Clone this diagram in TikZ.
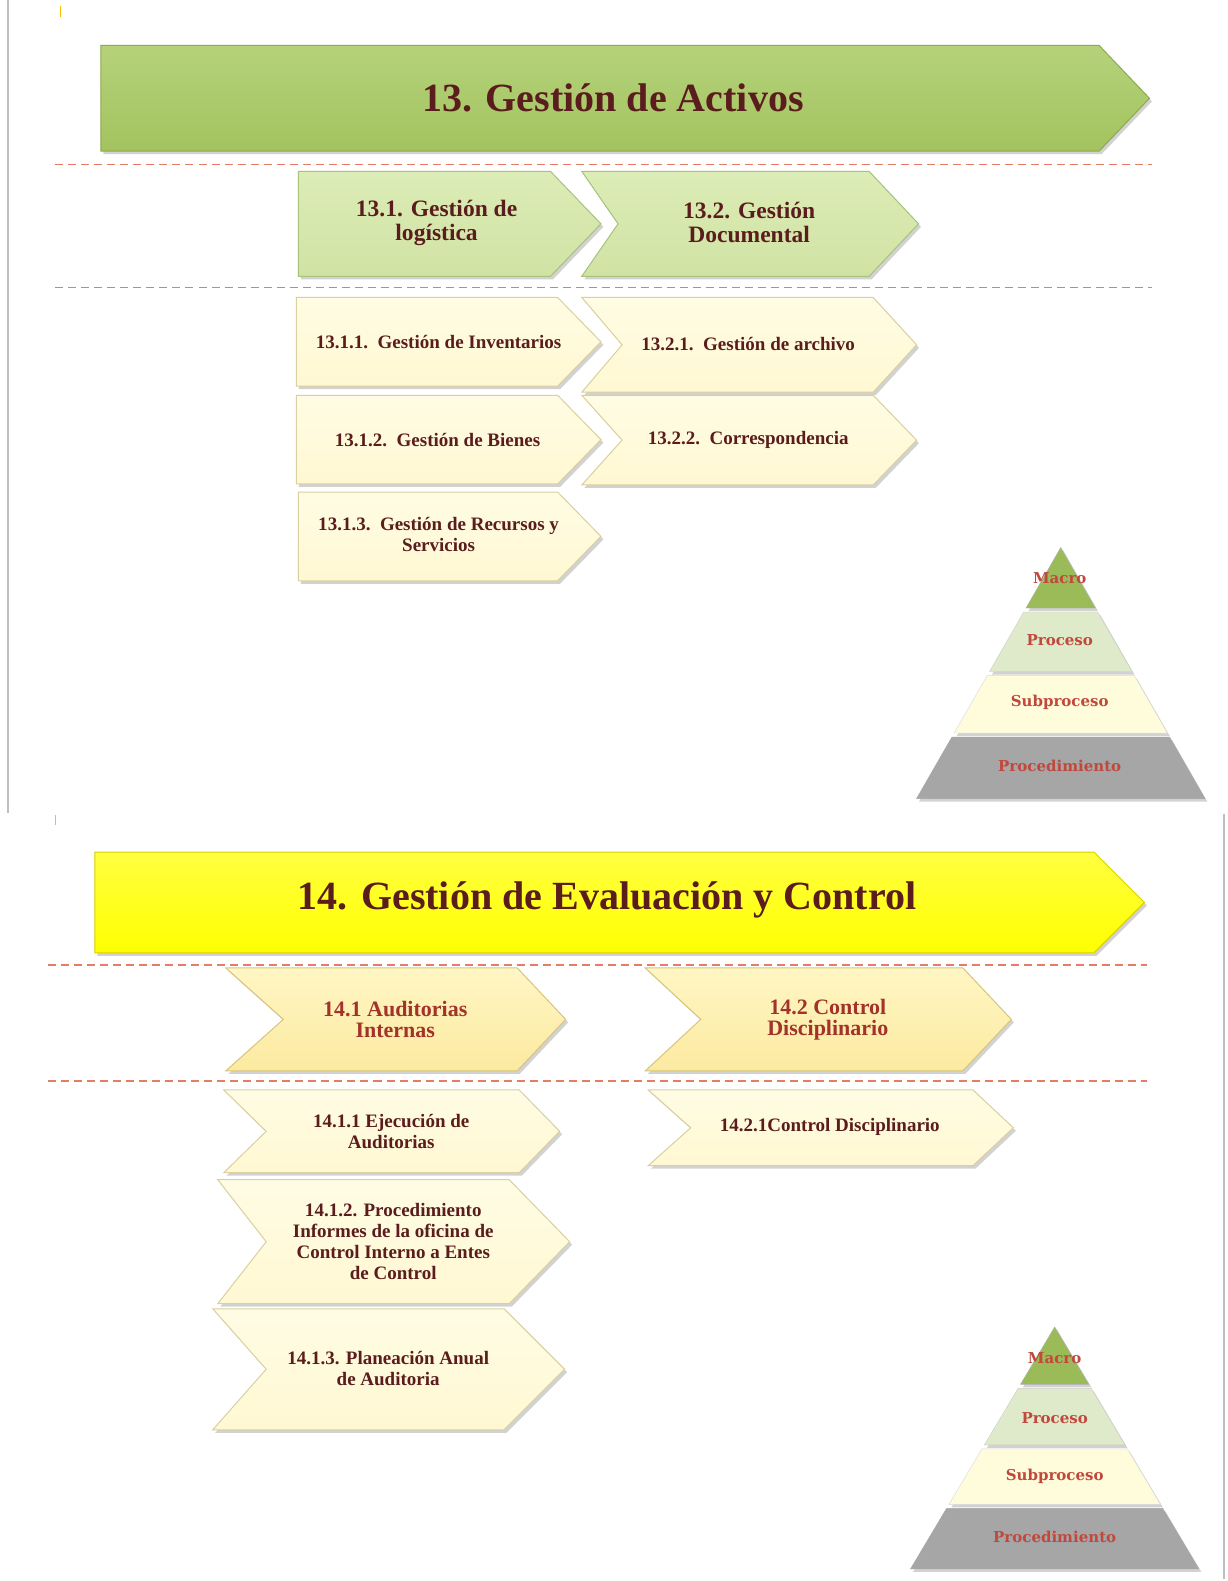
\documentclass[tikz,border=0pt]{standalone}
\usepackage{fontspec}
\setmainfont{Liberation Serif}
\newfontfamily\pyrfont{DejaVu Serif}
\usetikzlibrary{shadows}
\definecolor{grnA}{HTML}{A3C35F}
\definecolor{grnTop}{HTML}{B5D27A}
\definecolor{grnEdge}{HTML}{8CAA4E}
\definecolor{lgrn}{HTML}{D0E3A4}
\definecolor{lgrnTop}{HTML}{DCECB6}
\definecolor{lgrnEdge}{HTML}{A9C17A}
\definecolor{crm}{HTML}{FFF8D2}
\definecolor{crmTop}{HTML}{FFFCE4}
\definecolor{crmEdge}{HTML}{D9CFA0}
\definecolor{ylw}{HTML}{FFFF00}
\definecolor{ylwTop}{HTML}{FFFF40}
\definecolor{ylwEdge}{HTML}{D8D000}
\definecolor{pyl}{HTML}{FCEAA0}
\definecolor{pylTop}{HTML}{FFF6C4}
\definecolor{pylEdge}{HTML}{D8C47C}
\definecolor{maroon}{HTML}{5A1C1C}
\definecolor{redtxt}{HTML}{A3322A}
\definecolor{pyrtxt}{HTML}{C0483C}
\definecolor{dashc}{HTML}{E67C64}
\definecolor{pmacro}{HTML}{9BBB59}
\definecolor{pproc}{HTML}{DEEAC9}
\definecolor{psub}{HTML}{FFFCDB}
\definecolor{pproced}{HTML}{A6A6A6}
\definecolor{orng}{HTML}{FFC000}
\newcommand\chevshape[7][]{%
  \path[#1] (#2,#6) -- (#4,#6) -- (#5,{(#6+#7)/2}) -- (#4,#7) -- (#2,#7) -- (#3,{(#6+#7)/2}) -- cycle;}
\newcommand\pyrlayer[7][]{% cx, apexy, basey, halfbase, y1, y2
  \path[#1] ({#2-#5*((#6-#3)/(#4-#3))},#6) -- ({#2+#5*((#6-#3)/(#4-#3))},#6)
     -- ({#2+#5*((#7-#3)/(#4-#3))},#7) -- ({#2-#5*((#7-#3)/(#4-#3))},#7) -- cycle;}
\begin{document}
\begin{tikzpicture}[x=1.008pt,y=-1.008pt,
  shade/.style={drop shadow={shadow xshift=2.5pt,shadow yshift=-3pt,opacity=0.35}},
  bigg/.style={shade,top color=grnTop,bottom color=grnA,draw=grnEdge,line width=1pt},
  midg/.style={shade,top color=lgrnTop,bottom color=lgrn,draw=lgrnEdge,line width=1pt},
  cream/.style={shade,top color=crmTop,bottom color=crm,draw=crmEdge,line width=1pt},
  bigy/.style={shade,top color=ylwTop,bottom color=ylw,draw=ylwEdge,line width=1pt},
  midy/.style={shade,top color=pylTop,bottom color=pyl,draw=pylEdge,line width=1pt},
  sep/.style={dashc,dashed,dash pattern=on 8pt off 5pt,line width=1.4pt},
  border/.style={draw=black!25,line width=1.5pt},
  titletxt/.style={text=maroon,font=\bfseries\fontsize{40}{46}\selectfont},
  lvl2/.style={text=maroon,font=\bfseries\fontsize{23.5}{24}\selectfont,align=center},
  lvl2r/.style={text=redtxt,font=\bfseries\fontsize{22}{21}\selectfont,align=center},
  lvl3/.style={text=maroon,font=\bfseries\fontsize{19}{21}\selectfont,align=center},
  pyrlab/.style={text=pyrtxt,font=\pyrfont\bfseries\fontsize{15}{16}\selectfont}]
\useasboundingbox (0,0) rectangle (1217,1568);
\fill[white] (0,0) rectangle (1217,1568);
% page borders and marks
\draw[border] (8,0) -- (8,806);
\draw[border] (1214,807) -- (1214,1566);
\draw[orng,line width=1.5pt] (60,6) -- (60,17);
\draw[orng,line width=1.5pt] (55,808) -- (55,818);
%% ===== Section 13 =====
\chevshape[bigg]{100}{100}{1090}{1140}{45}{150}
\node[titletxt] (t13) at (608,97) {13. Gestión de Activos};
\draw[sep] (55,163) -- (1143,163);
\chevshape[midg]{296}{296}{546}{596}{170}{274}
\node[lvl2] (t131) at (433,221) {13.1. Gestión de\\logística};
\chevshape[midg]{577}{613}{862}{911}{170}{274}
\node[lvl2] (t132) at (743,221) {13.2. Gestión\\Documental};
\draw[sep] (55,285) -- (1143,285);
\chevshape[cream]{294}{294}{553}{596}{295}{383}
\node[lvl3] (t1311) at (435,339) {13.1.1.\ \ Gestión de Inventarios};
\chevshape[cream]{577}{617}{866}{909}{295}{389}
\node[lvl3] (t1321) at (742,341) {13.2.1.\ \ Gestión de archivo};
\chevshape[cream]{294}{294}{553}{596}{392}{480}
\node[lvl3] (t1312) at (434,436) {13.1.2.\ \ Gestión de Bienes};
\chevshape[cream]{577}{617}{866}{909}{392}{481}
\node[lvl3] (t1322) at (742,436) {13.2.2.\ \ Correspondencia};
\chevshape[cream]{296}{296}{553}{596}{488}{576}
\node[lvl3] (t1313) at (435,530) {13.1.3.\ \ Gestión de Recursos y\\Servicios};
% pyramid 13
\pyrlayer[shade,fill=pmacro,draw=black!30]{1052}{543}{792}{143}{543}{603}
\pyrlayer[shade,fill=pproc,draw=black!20]{1052}{543}{792}{143}{607}{666}
\pyrlayer[shade,fill=psub,draw=black!15]{1052}{543}{792}{143}{670}{727}
\pyrlayer[shade,fill=pproced,draw=black!35]{1052}{543}{792}{143}{731}{792}
\node[pyrlab] (pa1) at (1051,573) {Macro};
\node[pyrlab] (pa2) at (1051,635) {Proceso};
\node[pyrlab] (pa3) at (1051,697) {Subproceso};
\node[pyrlab] (pa4) at (1051,760) {Procedimiento};
%% ===== Section 14 =====
\chevshape[bigy]{94}{94}{1085}{1135}{845}{945}
\node[titletxt] (t14) at (602,893) {14. Gestión de Evaluación y Control};
\draw[sep] (48,957) -- (1138,957);
\chevshape[midy]{224}{281}{513}{561}{960}{1062}
\node[lvl2r] (t141) at (392,1011) {14.1 Auditorias\\Internas};
\chevshape[midy]{640}{695}{955}{1003}{960}{1062}
\node[lvl2r] (t142) at (821,1011) {14.2 Control\\Disciplinario};
\draw[sep] (48,1072) -- (1138,1072);
\chevshape[cream]{222}{264}{515}{555}{1081}{1163}
\node[lvl3] (t1411) at (388,1122) {14.1.1 Ejecución de\\Auditorias};
\chevshape[cream]{643}{685}{965}{1005}{1081}{1156}
\node[lvl3] (t1421) at (823,1118) {14.2.1Control Disciplinario};
\chevshape[cream]{216}{264}{505}{565}{1170}{1293}
\node[lvl3] (t1412) at (390,1231) {14.1.2. Procedimiento\\Informes de la oficina de\\Control Interno a Entes\\de Control};
\chevshape[cream]{211}{264}{500}{560}{1298}{1418}
\node[lvl3] (t1413) at (385,1357) {14.1.3. Planeación Anual\\de Auditoria};
% pyramid 14
\pyrlayer[shade,fill=pmacro,draw=black!30]{1046}{1316}{1556}{143}{1316}{1373}
\pyrlayer[shade,fill=pproc,draw=black!20]{1046}{1316}{1556}{143}{1377}{1433}
\pyrlayer[shade,fill=psub,draw=black!15]{1046}{1316}{1556}{143}{1437}{1492}
\pyrlayer[shade,fill=pproced,draw=black!35]{1046}{1316}{1556}{143}{1496}{1556}
\node[pyrlab] (pb1) at (1046,1347) {Macro};
\node[pyrlab] (pb2) at (1046,1406) {Proceso};
\node[pyrlab] (pb3) at (1046,1464) {Subproceso};
\node[pyrlab] (pb4) at (1046,1524) {Procedimiento};
\end{tikzpicture}
\end{document}
